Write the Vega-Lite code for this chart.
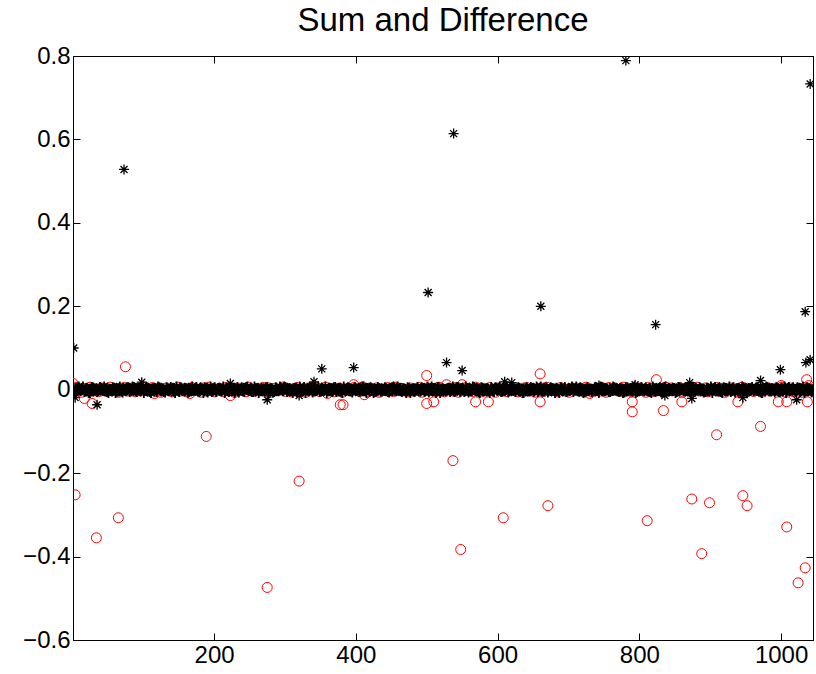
{
  "$schema": "https://vega.github.io/schema/vega-lite/v6.json",
  "autosize": {"type": "none"},
  "padding": {"left": 73, "top": 56, "right": 3, "bottom": 34},
  "width": 740,
  "height": 584,
  "background": "white",
  "title": {"text": "Sum and Difference", "font": "Liberation Sans", "fontSize": 33, "fontWeight": "normal", "color": "black", "anchor": "middle", "baseline": "alphabetic", "offset": -20},
  "config": {"view": {"stroke": "black", "strokeWidth": 1}, "axis": {"grid": false, "domainColor": "black", "tickColor": "black", "labelColor": "black", "labelFont": "Liberation Sans", "labelFontSize": 24, "titleFontSize": 0}},
  "datasets": {
    "band": [
{"x":1,"s":0.004,"d":-0.003},{"x":5,"s":-0.002,"d":0.004},{"x":9,"s":0.006,"d":0},{"x":13,"s":0,"d":-0.005},{"x":17,"s":-0.004,"d":0.002},{"x":21,"s":0.002,"d":-0.001},{"x":25,"s":-0.006,"d":0.005},{"x":29,"s":0.004,"d":-0.002},{"x":33,"s":0,"d":0.001},{"x":37,"s":-0.002,"d":-0.004},
{"x":41,"s":0.002,"d":0.003},{"x":45,"s":0.006,"d":0},{"x":49,"s":-0.004,"d":-0.003},{"x":53,"s":0,"d":0.005},{"x":57,"s":0.004,"d":-0.001},{"x":61,"s":-0.006,"d":0.002},{"x":65,"s":0.002,"d":-0.005},{"x":69,"s":-0.002,"d":0.001},{"x":73,"s":0,"d":0.004},{"x":77,"s":0.004,"d":-0.002},
{"x":81,"s":-0.004,"d":0},{"x":85,"s":0.006,"d":0.003},{"x":89,"s":-0.002,"d":-0.004},{"x":93,"s":0.002,"d":0.001},{"x":97,"s":0,"d":-0.002},{"x":101,"s":-0.006,"d":0.005},{"x":105,"s":0.004,"d":-0.001},{"x":109,"s":-0.004,"d":0},{"x":113,"s":0.002,"d":0.004},{"x":117,"s":0,"d":-0.003},
{"x":121,"s":0.006,"d":0.002},{"x":125,"s":-0.002,"d":-0.005},{"x":129,"s":-0.004,"d":0.001},{"x":133,"s":0.004,"d":0.003},{"x":137,"s":0,"d":-0.001},{"x":141,"s":0.002,"d":-0.004},{"x":145,"s":-0.006,"d":0},{"x":149,"s":0,"d":0.005},{"x":153,"s":0.004,"d":-0.002},{"x":157,"s":-0.002,"d":0.002},
{"x":161,"s":0.002,"d":-0.003},{"x":165,"s":-0.004,"d":0.001},{"x":169,"s":0.006,"d":0.004},{"x":173,"s":0,"d":-0.001},{"x":177,"s":-0.002,"d":0},{"x":181,"s":0.004,"d":-0.005},{"x":185,"s":-0.006,"d":0.003},{"x":189,"s":0.002,"d":-0.002},{"x":193,"s":0,"d":0.005},{"x":197,"s":-0.004,"d":0.001},
{"x":201,"s":0.004,"d":-0.004},{"x":205,"s":0.002,"d":0},{"x":209,"s":-0.002,"d":0.002},{"x":213,"s":0.006,"d":-0.003},{"x":217,"s":0,"d":0.004},{"x":221,"s":-0.004,"d":-0.001},{"x":225,"s":0.002,"d":0.001},{"x":229,"s":-0.006,"d":-0.005},{"x":233,"s":0.004,"d":0.003},{"x":237,"s":0,"d":0},
{"x":241,"s":-0.002,"d":0.002},{"x":245,"s":0.004,"d":-0.004},{"x":249,"s":0,"d":0.005},{"x":253,"s":-0.004,"d":-0.001},{"x":257,"s":0.006,"d":-0.003},{"x":261,"s":0.002,"d":0.001},{"x":265,"s":-0.002,"d":0},{"x":269,"s":0,"d":0.004},{"x":273,"s":0.004,"d":-0.002},{"x":277,"s":-0.006,"d":0.003},
{"x":281,"s":0.002,"d":-0.005},{"x":285,"s":-0.004,"d":0.002},{"x":289,"s":0,"d":-0.001},{"x":293,"s":0.006,"d":0},{"x":297,"s":-0.002,"d":0.005},{"x":301,"s":0.004,"d":-0.003},{"x":305,"s":0,"d":0.001},{"x":309,"s":-0.002,"d":-0.004},{"x":313,"s":0.002,"d":0.002},{"x":317,"s":-0.004,"d":0.004},
{"x":321,"s":0.006,"d":-0.001},{"x":325,"s":0,"d":0},{"x":329,"s":-0.006,"d":-0.005},{"x":333,"s":0.002,"d":0.003},{"x":337,"s":0.004,"d":0.001},{"x":341,"s":-0.002,"d":-0.002},{"x":345,"s":0,"d":0.004},{"x":349,"s":-0.004,"d":-0.003},{"x":353,"s":0.002,"d":0},{"x":357,"s":0.006,"d":0.005},
{"x":361,"s":-0.002,"d":-0.001},{"x":365,"s":0,"d":0.002},{"x":369,"s":0.004,"d":-0.004},{"x":373,"s":-0.004,"d":0.001},{"x":377,"s":0.002,"d":0.003},{"x":381,"s":-0.006,"d":-0.005},{"x":385,"s":0,"d":0},{"x":389,"s":0.004,"d":0.002},{"x":393,"s":-0.002,"d":-0.002},{"x":397,"s":0.002,"d":0.004},
{"x":401,"s":0,"d":0.001},{"x":405,"s":-0.004,"d":-0.003},{"x":409,"s":0.006,"d":0.005},{"x":413,"s":-0.002,"d":0},{"x":417,"s":0.002,"d":-0.004},{"x":421,"s":0.004,"d":0.002},{"x":425,"s":-0.006,"d":-0.001},{"x":429,"s":0,"d":0.003},{"x":433,"s":0.002,"d":-0.005},{"x":437,"s":-0.002,"d":0.001},
{"x":441,"s":0.004,"d":0},{"x":445,"s":-0.004,"d":0.004},{"x":449,"s":0,"d":-0.002},{"x":453,"s":0.006,"d":-0.003},{"x":457,"s":-0.002,"d":0.005},{"x":461,"s":0.002,"d":-0.001},{"x":465,"s":-0.004,"d":0.002},{"x":469,"s":0,"d":0},{"x":473,"s":0.004,"d":-0.004},{"x":477,"s":-0.006,"d":0.003},
{"x":481,"s":0.002,"d":-0.002},{"x":485,"s":0,"d":0.001},{"x":489,"s":-0.002,"d":0.004},{"x":493,"s":0.004,"d":-0.005},{"x":497,"s":-0.004,"d":0},{"x":501,"s":0.006,"d":0.003},{"x":505,"s":0,"d":-0.001},{"x":509,"s":0.002,"d":0.002},{"x":513,"s":-0.006,"d":-0.003},{"x":517,"s":0.004,"d":0.005},
{"x":521,"s":-0.002,"d":0.001},{"x":525,"s":0,"d":-0.004},{"x":529,"s":0.002,"d":0},{"x":533,"s":-0.004,"d":0.002},{"x":537,"s":0.006,"d":-0.002},{"x":541,"s":-0.002,"d":0.004},{"x":545,"s":0.004,"d":-0.005},{"x":549,"s":0,"d":0.001},{"x":553,"s":-0.004,"d":0.003},{"x":557,"s":0.002,"d":-0.001},
{"x":561,"s":-0.002,"d":0},{"x":565,"s":0.006,"d":-0.003},{"x":569,"s":0,"d":0.005},{"x":573,"s":-0.004,"d":0.002},{"x":577,"s":0.004,"d":-0.004},{"x":581,"s":-0.002,"d":0.001},{"x":585,"s":0.002,"d":-0.002},{"x":589,"s":-0.006,"d":0.004},{"x":593,"s":0,"d":0},{"x":597,"s":0.004,"d":-0.005},
{"x":601,"s":0.002,"d":0.003},{"x":605,"s":-0.004,"d":-0.001},{"x":609,"s":0,"d":0.001},{"x":613,"s":0.006,"d":-0.003},{"x":617,"s":-0.002,"d":0.005},{"x":621,"s":0.002,"d":0},{"x":625,"s":-0.004,"d":0.002},{"x":629,"s":0.004,"d":-0.004},{"x":633,"s":0,"d":-0.001},{"x":637,"s":-0.006,"d":0.003},
{"x":641,"s":0.004,"d":0.004},{"x":645,"s":-0.002,"d":-0.002},{"x":649,"s":0.002,"d":0},{"x":653,"s":0,"d":-0.005},{"x":657,"s":-0.004,"d":0.001},{"x":661,"s":0.006,"d":0.003},{"x":665,"s":-0.002,"d":-0.003},{"x":669,"s":0.004,"d":0.005},{"x":673,"s":0,"d":-0.001},{"x":677,"s":0.002,"d":0.002},
{"x":681,"s":-0.006,"d":0},{"x":685,"s":0,"d":-0.004},{"x":689,"s":0.004,"d":0.004},{"x":693,"s":-0.002,"d":0.001},{"x":697,"s":-0.004,"d":-0.002},{"x":701,"s":0.002,"d":-0.005},{"x":705,"s":0.006,"d":0.003},{"x":709,"s":0,"d":0},{"x":713,"s":-0.002,"d":0.002},{"x":717,"s":0.004,"d":-0.001},
{"x":721,"s":-0.006,"d":-0.003},{"x":725,"s":0.002,"d":0.005},{"x":729,"s":0,"d":0.001},{"x":733,"s":-0.004,"d":-0.004},{"x":737,"s":0.004,"d":0},{"x":741,"s":-0.002,"d":0.002},{"x":745,"s":0.006,"d":-0.002},{"x":749,"s":0,"d":0.003},{"x":753,"s":0.002,"d":-0.005},{"x":757,"s":-0.004,"d":0.004},
{"x":761,"s":0,"d":-0.001},{"x":765,"s":0.004,"d":0.001},{"x":769,"s":-0.002,"d":0},{"x":773,"s":0.002,"d":-0.003},{"x":777,"s":-0.006,"d":0.005},{"x":781,"s":0.004,"d":-0.002},{"x":785,"s":0,"d":0.002},{"x":789,"s":-0.002,"d":-0.004},{"x":793,"s":0.006,"d":0.001},{"x":797,"s":-0.004,"d":0},
{"x":801,"s":0.002,"d":0.003},{"x":805,"s":0,"d":-0.001},{"x":809,"s":0.004,"d":-0.005},{"x":813,"s":-0.002,"d":0.004},{"x":817,"s":-0.006,"d":0.002},{"x":821,"s":0.002,"d":-0.003},{"x":825,"s":0,"d":0},{"x":829,"s":0.004,"d":0.001},{"x":833,"s":-0.004,"d":-0.004},{"x":837,"s":0.006,"d":0.005},
{"x":841,"s":-0.002,"d":-0.002},{"x":845,"s":0,"d":0.003},{"x":849,"s":0.002,"d":-0.001},{"x":853,"s":-0.004,"d":0},{"x":857,"s":0.004,"d":0.004},{"x":861,"s":0,"d":-0.005},{"x":865,"s":-0.002,"d":0.002},{"x":869,"s":0.006,"d":0.001},{"x":873,"s":-0.006,"d":-0.003},{"x":877,"s":0.002,"d":0},
{"x":881,"s":0,"d":0.005},{"x":885,"s":0.004,"d":-0.002},{"x":889,"s":-0.002,"d":-0.001},{"x":893,"s":-0.004,"d":0.003},{"x":897,"s":0.002,"d":-0.004},{"x":901,"s":0.006,"d":0.001},{"x":905,"s":0,"d":0},{"x":909,"s":-0.002,"d":0.004},{"x":913,"s":0.004,"d":-0.003},{"x":917,"s":-0.006,"d":0.002},
{"x":921,"s":0.002,"d":-0.005},{"x":925,"s":0,"d":0.001},{"x":929,"s":-0.004,"d":0.003},{"x":933,"s":0.004,"d":-0.001},{"x":937,"s":0.002,"d":0},{"x":941,"s":-0.002,"d":-0.004},{"x":945,"s":0.006,"d":0.005},{"x":949,"s":0,"d":-0.002},{"x":953,"s":-0.004,"d":0.002},{"x":957,"s":0.002,"d":0.001},
{"x":961,"s":-0.002,"d":-0.003},{"x":965,"s":0.004,"d":0},{"x":969,"s":0,"d":0.004},{"x":973,"s":-0.006,"d":-0.005},{"x":977,"s":0.002,"d":0.001},{"x":981,"s":0.004,"d":0.003},{"x":985,"s":-0.002,"d":-0.002},{"x":989,"s":0,"d":0.002},{"x":993,"s":0.004,"d":0},{"x":997,"s":-0.004,"d":-0.001},
{"x":1001,"s":0.002,"d":0.005},{"x":1005,"s":0.006,"d":-0.004},{"x":1009,"s":0,"d":0.001},{"x":1013,"s":-0.002,"d":0.003},{"x":1017,"s":0.004,"d":-0.003},{"x":1021,"s":-0.004,"d":0},{"x":1025,"s":0.002,"d":0.002},{"x":1029,"s":0,"d":-0.005},{"x":1033,"s":-0.006,"d":0.004},{"x":1037,"s":0.004,"d":-0.001},
{"x":1041,"s":0,"d":0.001},{"x":1045,"s":-0.002,"d":-0.002},
{"x":3,"s":-0.005},{"x":7,"s":0.003},{"x":11,"s":0},{"x":15,"s":0.006},{"x":19,"s":-0.002},{"x":23,"s":-0.006},{"x":27,"s":0.004},{"x":31,"s":0.001},{"x":35,"s":-0.004},{"x":39,"s":0.005},
{"x":43,"s":-0.001},{"x":47,"s":0.002},{"x":51,"s":-0.006},{"x":55,"s":0},{"x":59,"s":0.003},{"x":63,"s":-0.003},{"x":67,"s":0.006},{"x":71,"s":-0.005},{"x":75,"s":0.001},{"x":79,"s":0.004},
{"x":83,"s":-0.002},{"x":87,"s":0.005},{"x":91,"s":-0.004},{"x":95,"s":0},{"x":99,"s":0.006},{"x":103,"s":-0.001},{"x":107,"s":0.003},{"x":111,"s":-0.006},{"x":115,"s":0.002},{"x":119,"s":-0.003},
{"x":123,"s":0.004},{"x":127,"s":0},{"x":131,"s":-0.005},{"x":135,"s":0.001},{"x":139,"s":0.005},{"x":143,"s":-0.002},{"x":147,"s":0.006},{"x":151,"s":-0.004},{"x":155,"s":-0.001},{"x":159,"s":0.003},
{"x":163,"s":-0.006},{"x":167,"s":0.002},{"x":171,"s":0},{"x":175,"s":0.005},{"x":179,"s":-0.003},{"x":183,"s":0.001},{"x":187,"s":0.004},{"x":191,"s":-0.005},{"x":195,"s":0.006},{"x":199,"s":-0.001},
{"x":203,"s":-0.004},{"x":207,"s":0.003},{"x":211,"s":0},{"x":215,"s":-0.006},{"x":219,"s":0.002},{"x":223,"s":0.005},{"x":227,"s":-0.002},{"x":231,"s":0.001},{"x":235,"s":-0.005},{"x":239,"s":0.004},
{"x":243,"s":-0.003},{"x":247,"s":0.006},{"x":251,"s":0},{"x":255,"s":-0.004},{"x":259,"s":0.002},{"x":263,"s":-0.006},{"x":267,"s":0.003},{"x":271,"s":-0.001},{"x":275,"s":0.005},{"x":279,"s":0},
{"x":283,"s":-0.005},{"x":287,"s":0.004},{"x":291,"s":-0.002},{"x":295,"s":0.001},{"x":299,"s":0.006},{"x":303,"s":-0.004},{"x":307,"s":0.002},{"x":311,"s":-0.006},{"x":315,"s":0.003},{"x":319,"s":0},
{"x":323,"s":-0.003},{"x":327,"s":0.005},{"x":331,"s":-0.001},{"x":335,"s":0.004},{"x":339,"s":-0.005},{"x":343,"s":0.001},{"x":347,"s":0.006},{"x":351,"s":-0.002},{"x":355,"s":0},{"x":359,"s":-0.006},
{"x":363,"s":0.003},{"x":367,"s":-0.004},{"x":371,"s":0.005},{"x":375,"s":0.001},{"x":379,"s":-0.003},{"x":383,"s":0.006},{"x":387,"s":-0.001},{"x":391,"s":0.002},{"x":395,"s":-0.005},{"x":399,"s":0.004},
{"x":403,"s":0},{"x":407,"s":-0.002},{"x":411,"s":0.006},{"x":415,"s":-0.006},{"x":419,"s":0.003},{"x":423,"s":0.001},{"x":427,"s":-0.004},{"x":431,"s":0.005},{"x":435,"s":-0.003},{"x":439,"s":0},
{"x":443,"s":0.002},{"x":447,"s":-0.005},{"x":451,"s":0.004},{"x":455,"s":-0.001},{"x":459,"s":0.006},{"x":463,"s":-0.002},{"x":467,"s":0.001},{"x":471,"s":-0.006},{"x":475,"s":0.003},{"x":479,"s":0},
{"x":483,"s":-0.004},{"x":487,"s":0.005},{"x":491,"s":-0.003},{"x":495,"s":0.002},{"x":499,"s":0},{"x":503,"s":-0.005},{"x":507,"s":0.006},{"x":511,"s":-0.001},{"x":515,"s":0.004},{"x":519,"s":-0.006},
{"x":523,"s":0.001},{"x":527,"s":-0.002},{"x":531,"s":0.003},{"x":535,"s":0},{"x":539,"s":-0.004},{"x":543,"s":0.005},{"x":547,"s":-0.003},{"x":551,"s":0.002},{"x":555,"s":0.006},{"x":559,"s":-0.005},
{"x":563,"s":0},{"x":567,"s":0.004},{"x":571,"s":-0.001},{"x":575,"s":-0.006},{"x":579,"s":0.003},{"x":583,"s":0.001},{"x":587,"s":-0.002},{"x":591,"s":0.005},{"x":595,"s":-0.004},{"x":599,"s":0},
{"x":603,"s":0.006},{"x":607,"s":-0.003},{"x":611,"s":0.002},{"x":615,"s":-0.005},{"x":619,"s":0.004},{"x":623,"s":-0.001},{"x":627,"s":0},{"x":631,"s":0.003},{"x":635,"s":-0.006},{"x":639,"s":0.001},
{"x":643,"s":-0.002},{"x":647,"s":0.005},{"x":651,"s":-0.004},{"x":655,"s":0.006},{"x":659,"s":0},{"x":663,"s":-0.003},{"x":667,"s":0.002},{"x":671,"s":-0.005},{"x":675,"s":0.004},{"x":679,"s":-0.001},
{"x":683,"s":0.003},{"x":687,"s":-0.006},{"x":691,"s":0.001},{"x":695,"s":0.005},{"x":699,"s":-0.002},{"x":703,"s":0},{"x":707,"s":-0.004},{"x":711,"s":0.006},{"x":715,"s":-0.003},{"x":719,"s":0.002},
{"x":723,"s":-0.005},{"x":727,"s":0.004},{"x":731,"s":0},{"x":735,"s":-0.001},{"x":739,"s":0.003},{"x":743,"s":-0.006},{"x":747,"s":0.005},{"x":751,"s":-0.002},{"x":755,"s":0.001},{"x":759,"s":-0.004},
{"x":763,"s":0.006},{"x":767,"s":0},{"x":771,"s":-0.003},{"x":775,"s":0.002},{"x":779,"s":-0.005},{"x":783,"s":0.004},{"x":787,"s":-0.001},{"x":791,"s":0.003},{"x":795,"s":-0.006},{"x":799,"s":0.001},
{"x":803,"s":0.005},{"x":807,"s":-0.002},{"x":811,"s":0},{"x":815,"s":-0.004},{"x":819,"s":0.006},{"x":823,"s":-0.003},{"x":827,"s":0.002},{"x":831,"s":-0.005},{"x":835,"s":0.004},{"x":839,"s":0},
{"x":843,"s":-0.001},{"x":847,"s":0.003},{"x":851,"s":-0.006},{"x":855,"s":0.005},{"x":859,"s":0.001},{"x":863,"s":-0.002},{"x":867,"s":0.004},{"x":871,"s":-0.004},{"x":875,"s":0.006},{"x":879,"s":-0.003},
{"x":883,"s":0},{"x":887,"s":0.002},{"x":891,"s":-0.005},{"x":895,"s":0.003},{"x":899,"s":-0.001},{"x":903,"s":-0.006},{"x":907,"s":0.005},{"x":911,"s":0.001},{"x":915,"s":-0.004},{"x":919,"s":0.004},
{"x":923,"s":-0.002},{"x":927,"s":0.006},{"x":931,"s":0},{"x":935,"s":-0.005},{"x":939,"s":0.002},{"x":943,"s":-0.003},{"x":947,"s":0.003},{"x":951,"s":-0.006},{"x":955,"s":0.001},{"x":959,"s":0.005},
{"x":963,"s":-0.001},{"x":967,"s":0.004},{"x":971,"s":-0.004},{"x":975,"s":0},{"x":979,"s":0.006},{"x":983,"s":-0.002},{"x":987,"s":0.002},{"x":991,"s":-0.005},{"x":995,"s":0.003},{"x":999,"s":-0.003},
{"x":1003,"s":0.001},{"x":1007,"s":-0.006},{"x":1011,"s":0.005},{"x":1015,"s":0},{"x":1019,"s":-0.001},{"x":1023,"s":0.004},{"x":1027,"s":-0.004},{"x":1031,"s":0.006},{"x":1035,"s":-0.002},{"x":1039,"s":0.002},
{"x":1043,"s":-0.005}
    ],
    "sumOut": [
{"x":2,"s":0.1},{"x":4,"s":-0.019},{"x":35,"s":-0.036},{"x":73,"s":0.528},{"x":98,"s":0.018},{"x":223,"s":0.015},{"x":275,"s":-0.024},{"x":320,"s":-0.014},{"x":341,"s":0.019},{"x":352,"s":0.05},{"x":397,"s":0.053},{"x":502,"s":0.233},{"x":528,"s":0.065},{"x":538,"s":0.614},{"x":550,"s":0.046},{"x":610,"s":0.019},{"x":620,"s":0.017},{"x":661,"s":0.2},{"x":743,"s":0.01},{"x":781,"s":0.789},{"x":794,"s":0.012},{"x":823,"s":0.156},{"x":836,"s":-0.014},{"x":871,"s":0.017},{"x":874,"s":-0.021},{"x":946,"s":-0.019},{"x":971,"s":0.022},{"x":999,"s":0.048},{"x":1022,"s":-0.024},{"x":1034,"s":0.187},{"x":1035,"s":0.065},{"x":1041,"s":0.072},{"x":1041,"s":0.733}
    ],
    "diffOut": [
{"x":1,"d":0.015},{"x":4,"d":-0.252},{"x":17,"d":-0.021},{"x":28,"d":-0.033},{"x":34,"d":-0.355},{"x":65,"d":-0.307},{"x":75,"d":0.055},{"x":116,"d":-0.009},{"x":166,"d":-0.009},{"x":189,"d":-0.112},{"x":223,"d":-0.014},{"x":275,"d":-0.474},{"x":320,"d":-0.219},{"x":360,"d":-0.009},{"x":378,"d":-0.036},{"x":382,"d":-0.036},{"x":397,"d":0.012},{"x":412,"d":-0.012},{"x":500,"d":0.034},{"x":500,"d":-0.033},{"x":510,"d":-0.029},{"x":528,"d":0.012},{"x":537,"d":-0.17},{"x":548,"d":-0.383},{"x":550,"d":0.012},{"x":569,"d":-0.029},{"x":587,"d":-0.029},{"x":608,"d":-0.307},{"x":660,"d":0.038},{"x":660,"d":-0.029},{"x":671,"d":-0.278},{"x":730,"d":-0.009},{"x":790,"d":-0.029},{"x":790,"d":-0.053},{"x":811,"d":-0.314},{"x":824,"d":0.024},{"x":834,"d":-0.05},{"x":860,"d":-0.029},{"x":874,"d":-0.262},{"x":888,"d":-0.393},{"x":899,"d":-0.271},{"x":909,"d":-0.108},{"x":939,"d":-0.029},{"x":946,"d":-0.254},{"x":952,"d":-0.278},{"x":971,"d":-0.088},{"x":996,"d":-0.029},{"x":1000,"d":0.01},{"x":1008,"d":-0.029},{"x":1008,"d":-0.329},{"x":1024,"d":-0.463},{"x":1034,"d":-0.427},{"x":1036,"d":0.024},{"x":1037,"d":-0.029},{"x":1039,"d":0.01}
    ]
  },
  "resolve": {"axis": {"x": "independent", "y": "independent"}},
  "layer": [
    {
      "layer": [
        {"data": {"name": "band"}, "mark": {"type": "point", "shape": "circle", "filled": false, "color": "#ff0000", "size": 120, "strokeWidth": 1, "opacity": 1, "clip": true}, "encoding": {"x": {"field": "x", "type": "quantitative"}, "y": {"field": "d", "type": "quantitative"}}},
        {"data": {"name": "diffOut"}, "mark": {"type": "point", "shape": "circle", "filled": false, "color": "#ff0000", "size": 100, "strokeWidth": 1, "opacity": 1, "clip": true}, "encoding": {"x": {"field": "x", "type": "quantitative"}, "y": {"field": "d", "type": "quantitative"}}}
      ],
      "encoding": {
        "x": {"field": "x", "type": "quantitative", "scale": {"domain": [1, 1045], "nice": false, "zero": false}, "axis": {"orient": "bottom", "title": null, "values": [200, 400, 600, 800, 1000], "format": "d", "tickSize": -7, "labelPadding": 10, "domain": true}},
        "y": {"field": "d", "type": "quantitative", "scale": {"domain": [-0.6, 0.8], "nice": false, "zero": false}, "axis": {"orient": "left", "title": null, "values": [-0.6, -0.4, -0.2, 0, 0.2, 0.4, 0.6, 0.8], "format": ".1~f", "tickSize": -7, "labelPadding": 10, "domain": true}}
      }
    },
    {
      "layer": [
        {"data": {"name": "band"}, "mark": {"type": "point", "shape": "M-1,0L1,0M0,-1L0,1M-0.7,-0.7L0.7,0.7M-0.7,0.7L0.7,-0.7", "filled": false, "color": "#000000", "size": 130, "strokeWidth": 1.8, "opacity": 1, "clip": true}, "encoding": {"x": {"field": "x", "type": "quantitative"}, "y": {"field": "s", "type": "quantitative"}}},
        {"data": {"name": "sumOut"}, "mark": {"type": "point", "shape": "M-1,0L1,0M0,-1L0,1M-0.7,-0.7L0.7,0.7M-0.7,0.7L0.7,-0.7", "filled": false, "color": "#000000", "size": 100, "strokeWidth": 1.3, "opacity": 1, "clip": true}, "encoding": {"x": {"field": "x", "type": "quantitative"}, "y": {"field": "s", "type": "quantitative"}}}
      ],
      "encoding": {
        "x": {"field": "x", "type": "quantitative", "scale": {"domain": [1, 1045], "nice": false, "zero": false}, "axis": {"orient": "top", "title": null, "values": [200, 400, 600, 800, 1000], "tickSize": -7, "labels": false, "domain": true}},
        "y": {"field": "s", "type": "quantitative", "scale": {"domain": [-0.6, 0.8], "nice": false, "zero": false}, "axis": {"orient": "right", "title": null, "values": [-0.6, -0.4, -0.2, 0, 0.2, 0.4, 0.6, 0.8], "tickSize": -7, "labels": false, "domain": true}}
      }
    }
  ]
}
